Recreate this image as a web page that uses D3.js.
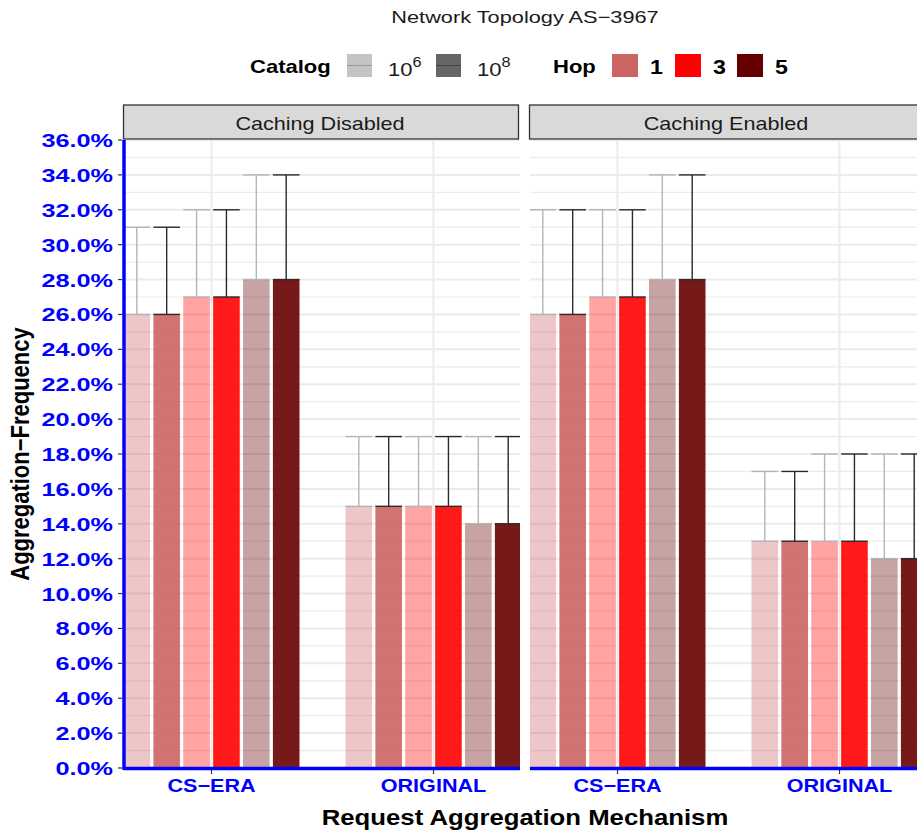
<!DOCTYPE html>
<html><head><meta charset="utf-8">
<script src="https://cdn.jsdelivr.net/npm/d3@7"></script>
<style>body{margin:0;background:#fff}svg{display:block;font-family:"Liberation Sans",Arial,sans-serif}</style>
</head><body>
<script>
// ---- data ----
const facets = ["Caching Disabled", "Caching Enabled"];
const mechanisms = ["CS\u2212ERA", "ORIGINAL"];
const hops = ["1", "3", "5"];
const catalogs = ["10^6", "10^8"];
// values per facet -> mechanism -> hop (same for both catalogs), percent
const valuesDisabled = { "CS\u2212ERA": [26, 27, 28], "ORIGINAL": [15, 15, 14] };
const upperDisabled  = { "CS\u2212ERA": [31, 32, 34], "ORIGINAL": [19, 19, 19] };
const valuesEnabled  = { "CS\u2212ERA": [26, 27, 28], "ORIGINAL": [13, 13, 12] };
const upperEnabled   = { "CS\u2212ERA": [32, 32, 34], "ORIGINAL": [17, 18, 18] };
const yTicks = [0,2,4,6,8,10,12,14,16,18,20,22,24,26,28,30,32,34,36];

const hopColor = { "1": "#CD6464", "3": "#FF0000", "5": "#660000" };
const catAlpha = { "10^6": 0.36, "10^8": 0.9 };
const catErr = { "10^6": "#b4b4b4", "10^8": "#2a2a2a" };

const W = 917, H = 835;
const svg = d3.select("body").append("svg").attr("width", W).attr("height", H);

function addText(sel, x, y, txt, size, opts = {}) {
  const sx = opts.sx || 1;
  return sel.append("text")
    .attr("transform", `translate(${x},${y})${opts.rot ? " rotate(" + opts.rot + ")" : ""} scale(${opts.rot ? 1 : sx},${opts.rot ? sx : 1})`)
    .attr("text-anchor", opts.anchor || "start")
    .attr("font-size", size)
    .attr("font-weight", opts.bold ? "bold" : "normal")
    .attr("fill", opts.fill || "#000")
    .text(txt);
}

const yTop = 140, yBottom = 768;
const y = d3.scaleLinear().domain([0, 36]).range([yBottom, yTop]);
const panelW = 396;
const panelX = [124, 530];

const rows = [];
facets.forEach((f, fi) => {
  const vals = fi === 0 ? valuesDisabled : valuesEnabled;
  const ups = fi === 0 ? upperDisabled : upperEnabled;
  mechanisms.forEach(m => {
    hops.forEach((h, hi) => {
      catalogs.forEach(c => {
        rows.push({ facet: f, mech: m, hop: h, cat: c, v: vals[m][hi], up: ups[m][hi] });
      });
    });
  });
});
const series = [];
hops.forEach(h => catalogs.forEach(c => series.push(h + "|" + c)));

facets.forEach((f, fi) => {
  const x0 = panelX[fi];
  const x = d3.scalePoint().domain(mechanisms).range([x0 + 87.5, x0 + 87.5 + 222]);
  const inner = d3.scaleBand().domain(series).range([-88, 88]).paddingInner(0.11);
  const g = svg.append("g");
  const clipId = "clip" + fi;
  svg.append("clipPath").attr("id", clipId).append("rect")
    .attr("x", x0).attr("y", yTop).attr("width", panelW).attr("height", yBottom - yTop);
  const pg = g.append("g").attr("clip-path", `url(#${clipId})`);
  // gridlines
  const minor = d3.range(1, 36, 2);
  pg.selectAll("line.minor").data(minor).join("line")
    .attr("x1", x0).attr("x2", x0 + panelW).attr("y1", d => y(d)).attr("y2", d => y(d))
    .attr("stroke", "#ebebeb").attr("stroke-width", 1.2);
  pg.selectAll("line.major").data(yTicks).join("line")
    .attr("x1", x0).attr("x2", x0 + panelW).attr("y1", d => y(d)).attr("y2", d => y(d))
    .attr("stroke", "#ebebeb").attr("stroke-width", 2);
  pg.selectAll("line.vg").data(mechanisms).join("line")
    .attr("x1", d => x(d)).attr("x2", d => x(d)).attr("y1", yTop).attr("y2", yBottom)
    .attr("stroke", "#ebebeb").attr("stroke-width", 2);
  const data = rows.filter(r => r.facet === f);
  // bars
  pg.selectAll("rect.bar").data(data).join("rect")
    .attr("x", d => x(d.mech) + inner(d.hop + "|" + d.cat))
    .attr("width", inner.bandwidth())
    .attr("y", d => y(d.v)).attr("height", d => y(0) - y(d.v))
    .attr("fill", d => hopColor[d.hop]).attr("fill-opacity", d => catAlpha[d.cat]);
  // error bars
  const eb = pg.selectAll("g.eb").data(data).join("g");
  eb.each(function(d) {
    const s = d3.select(this);
    const bx = x(d.mech) + inner(d.hop + "|" + d.cat);
    const cx = bx + inner.bandwidth() / 2;
    const col = catErr[d.cat];
    s.append("line").attr("x1", cx).attr("x2", cx).attr("y1", y(d.v)).attr("y2", y(d.up))
      .attr("stroke", col).attr("stroke-width", 1.4);
    [d.v, d.up].forEach(vv => s.append("line").attr("x1", bx).attr("x2", bx + inner.bandwidth())
      .attr("y1", y(vv)).attr("y2", y(vv)).attr("stroke", col).attr("stroke-width", 1.4));
  });
  // strip
  g.append("rect").attr("x", x0 - 0.5).attr("y", 105).attr("width", panelW - 1 + (fi === 1 ? 20 : 0)).attr("height", 34)
    .attr("fill", "#d9d9d9").attr("stroke", "#333").attr("stroke-width", 1.3);
  addText(g, x0 + panelW / 2 - 2, 130, f, 18, { anchor: "middle", fill: "#1a1a1a", sx: 1.2 });
  // x axis
  g.append("line").attr("x1", x0).attr("x2", x0 + panelW).attr("y1", yBottom + 0.5).attr("y2", yBottom + 0.5)
    .attr("stroke", "#0000ff").attr("stroke-width", 3.5);
  g.selectAll("line.xt").data(mechanisms).join("line")
    .attr("x1", d => x(d)).attr("x2", d => x(d)).attr("y1", yBottom + 2).attr("y2", yBottom + 6)
    .attr("stroke", "#333").attr("stroke-width", 1.2);
  mechanisms.forEach(m => addText(g, x(m), 792, m, 18, { anchor: "middle", bold: true, fill: "#0000ff", sx: 1.2 }));
});

// y axis
svg.append("line").attr("x1", 124).attr("x2", 124).attr("y1", yTop).attr("y2", yBottom + 2)
  .attr("stroke", "#0000ff").attr("stroke-width", 3.5);
svg.selectAll("line.yt").data(yTicks).join("line")
  .attr("x1", 118).attr("x2", 122).attr("y1", d => y(d)).attr("y2", d => y(d))
  .attr("stroke", "#333").attr("stroke-width", 1.2);
yTicks.forEach(t => addText(svg, 113, y(t) + 7, t.toFixed(1) + "%", 19, { anchor: "end", bold: true, fill: "#0000ff", sx: 1.33 }));

// titles
addText(svg, 525, 23, "Network Topology AS\u22123967", 17, { anchor: "middle", fill: "#1a1a1a", sx: 1.28 });
addText(svg, 525, 825, "Request Aggregation Mechanism", 22, { anchor: "middle", bold: true, sx: 1.17 });
addText(svg, 29, (yTop + yBottom) / 2, "Aggregation\u2212Frequency", 22, { anchor: "middle", bold: true, rot: -90, sx: 1.15 });

// legend
const lg = svg.append("g");
addText(lg, 250, 73, "Catalog", 19, { bold: true, sx: 1.16 });
const catKeyX = [347, 436];
const catKeyFill = { "10^6": "#c4c4c4", "10^8": "#666666" };
const catKeyLine = { "10^6": "#9a9a9a", "10^8": "#444" };
catalogs.forEach((c, i) => {
  lg.append("rect").attr("x", catKeyX[i]).attr("y", 54).attr("width", 25).attr("height", 23).attr("fill", catKeyFill[c]);
  lg.append("line").attr("x1", catKeyX[i]).attr("x2", catKeyX[i] + 25).attr("y1", 65.5).attr("y2", 65.5)
    .attr("stroke", catKeyLine[c]).attr("stroke-width", 1);
  const t = addText(lg, catKeyX[i] + 41, 76, "", 19, { fill: "#1a1a1a", sx: 1.16 });
  t.append("tspan").text("10");
  t.append("tspan").attr("dy", -9).attr("font-size", 14).text(c.split("^")[1]);
});
addText(lg, 553, 73, "Hop", 19, { bold: true, sx: 1.16 });
const hopKeyX = [612, 675, 737];
hops.forEach((h, i) => {
  lg.append("rect").attr("x", hopKeyX[i]).attr("y", 54).attr("width", 26).attr("height", 23).attr("fill", hopColor[h]);
  addText(lg, hopKeyX[i] + 38, 74, h, 20, { bold: true, sx: 1.16 });
});
</script>
</body></html>
